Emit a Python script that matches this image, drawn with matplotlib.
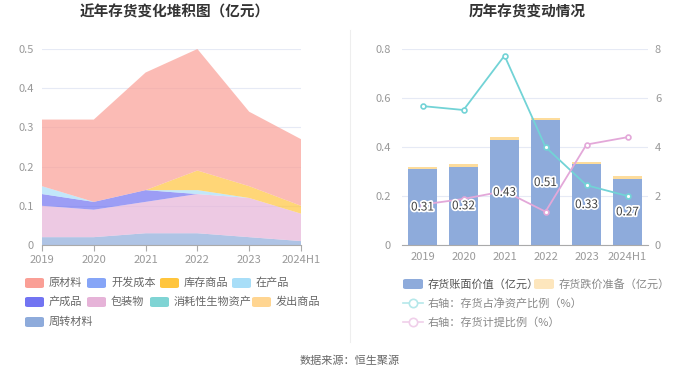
import matplotlib
matplotlib.use("Agg")
import matplotlib.pyplot as plt
import matplotlib.patheffects as pe
from matplotlib.patches import FancyBboxPatch
from matplotlib.lines import Line2D
import numpy as np

plt.rcParams['font.family'] = ['Noto Sans CJK SC', 'DejaVu Sans']

years = ['2019', '2020', '2021', '2022', '2023', '2024H1']

# left chart: inventory composition (亿元), legend order
stack_names = ['原材料', '开发成本', '库存商品', '在产品', '产成品', '包装物',
               '消耗性生物资产', '发出商品', '周转材料']
raw_material = [0.17, 0.21, 0.30, 0.31, 0.19, 0.17]
dev_cost = [0, 0, 0, 0, 0, 0]
goods_stock = [0, 0, 0, 0.05, 0.03, 0.02]
wip = [0.02, 0, 0, 0.01, 0, 0]
finished = [0.03, 0.02, 0.03, 0, 0, 0]
packaging = [0.08, 0.07, 0.08, 0.10, 0.10, 0.07]
bio_assets = [0, 0, 0, 0, 0, 0]
goods_shipped = [0, 0, 0, 0, 0, 0]
turnover_mat = [0.02, 0.02, 0.03, 0.03, 0.02, 0.01]
stack_colors = ['#fa9f96', '#86a5f7', '#ffc53d', '#a8def8', '#7274f2', '#e6b3d8',
                '#7fd4d4', '#ffd591', '#8eabdb']

# right chart
book_value = [0.31, 0.32, 0.43, 0.51, 0.33, 0.27]
impairment = [0.01, 0.01, 0.01, 0.01, 0.01, 0.01]
pct_net_assets = [5.67, 5.51, 7.73, 4.0, 2.44, 2.0]
pct_provision = [1.65, 1.88, 2.2, 1.36, 4.1, 4.4]

W, H = 700, 377
fig = plt.figure(figsize=(7, 3.77), dpi=100)
tick_c = '#999999'
grid_c = '#e6eaf5'

def fx(px):
    return px / W

def fy(py):
    return 1 - py / H

# ---- left: stacked area ----
ax1 = fig.add_axes([fx(42), fy(245), fx(259), (245 - 49) / H])
series = [raw_material, dev_cost, goods_stock, wip, finished, packaging,
          bio_assets, goods_shipped, turnover_mat]
x = np.arange(len(years))
ax1.stackplot(x, *series[::-1], colors=stack_colors[::-1], alpha=0.7, linewidth=0)
ax1.set_xlim(0, len(years) - 1)
ax1.set_ylim(0, 0.5)
ax1.set_yticks([0, 0.1, 0.2, 0.3, 0.4, 0.5])
ax1.set_yticklabels(['0', '0.1', '0.2', '0.3', '0.4', '0.5'])
ax1.set_xticks(x)
ax1.set_xticklabels(years)
ax1.grid(axis='y', color=grid_c, linewidth=0.8)
ax1.set_axisbelow(True)
for s in ['top', 'right', 'left']:
    ax1.spines[s].set_visible(False)
ax1.spines['bottom'].set_color('#aaaaaa')
ax1.tick_params(axis='y', length=0, pad=6, colors=tick_c, labelsize=8)
ax1.tick_params(axis='x', length=4, color='#aaaaaa', pad=3, colors=tick_c, labelsize=8)

# ---- right: bars + lines ----
ax2 = fig.add_axes([fx(402), fy(245), fx(246), (245 - 49) / H])
ax2.bar(x, book_value, width=0.7, color='#8eabdb', zorder=2)
ax2.bar(x, impairment, width=0.7, bottom=book_value, color='#fddc9c', zorder=2)
ax2.set_xlim(-0.5, len(years) - 0.5)
ax2.set_ylim(0, 0.8)
ax2.set_yticks([0, 0.2, 0.4, 0.6, 0.8])
ax2.set_yticklabels(['0', '0.2', '0.4', '0.6', '0.8'])
ax2.set_xticks(x)
ax2.set_xticklabels(years)
ax2.grid(axis='y', color=grid_c, linewidth=0.8)
ax2.set_axisbelow(True)
for s in ['top', 'right', 'left']:
    ax2.spines[s].set_visible(False)
ax2.spines['bottom'].set_color('#aaaaaa')
ax2.tick_params(axis='y', length=0, pad=8, colors=tick_c, labelsize=8)
ax2.tick_params(axis='x', length=0, pad=5, colors=tick_c, labelsize=8)

ax3 = ax2.twinx()
ax3.plot(x, pct_net_assets, color='#72d3d6', linewidth=1.3, marker='o', markersize=3.5,
         markerfacecolor='white', markeredgewidth=1.2, zorder=4)
ax3.plot(x, pct_provision, color='#e3a8d9', linewidth=1.3, marker='o', markersize=3.5,
         markerfacecolor='white', markeredgewidth=1.2, zorder=4)
ax3.set_ylim(0, 8)
ax3.set_yticks([0, 2, 4, 6, 8])
for s in ['top', 'right', 'left', 'bottom']:
    ax3.spines[s].set_visible(False)
ax3.tick_params(axis='y', length=0, pad=5, colors=tick_c, labelsize=8)

# bar labels drawn on the top axes so they sit above the lines
for xi, v in zip(x, book_value):
    ax3.text(xi, v / 2 * 10, f'{v:.2f}', ha='center', va='center', fontsize=8.5, color='#444444',
             zorder=6, path_effects=[pe.withStroke(linewidth=2.5, foreground='white')])

# ---- titles ----
fig.text(fx(175), fy(12), '近年存货变化堆积图（亿元）', ha='center', va='center',
         fontsize=10.5, fontweight='bold', color='#333333')
fig.text(fx(527), fy(12), '历年存货变动情况', ha='center', va='center',
         fontsize=10.5, fontweight='bold', color='#333333')

# separator
fig.add_artist(Line2D([fx(350), fx(350)], [fy(30), fy(342)], color='#eeeeee', linewidth=0.8))

# ---- left legend ----
leg_pos = [(25, 283), (87, 283), (160, 283), (232, 283),
           (25, 302), (87, 302), (150, 302), (252, 302),
           (25, 322)]
for name, col, (px, py) in zip(stack_names, stack_colors, leg_pos):
    fig.add_artist(FancyBboxPatch((fx(px), fy(py + 5)), fx(19), 10 / H,
                                  boxstyle='round,pad=0,rounding_size=0.004',
                                  facecolor=col, edgecolor='none', transform=fig.transFigure))
    fig.text(fx(px + 24), fy(py), name, ha='left', va='center', fontsize=8, color='#666666')

# ---- right legend ----
fig.add_artist(FancyBboxPatch((fx(403), fy(289)), fx(20), 10 / H,
                              boxstyle='round,pad=0,rounding_size=0.004',
                              facecolor='#8eabdb', edgecolor='none', transform=fig.transFigure))
fig.text(fx(428), fy(284), '存货账面价值（亿元）', ha='left', va='center', fontsize=8, color='#555555')
fig.add_artist(FancyBboxPatch((fx(534), fy(289)), fx(20), 10 / H,
                              boxstyle='round,pad=0,rounding_size=0.004',
                              facecolor='#fde6bd', edgecolor='none', transform=fig.transFigure))
fig.text(fx(559), fy(284), '存货跌价准备（亿元）', ha='left', va='center', fontsize=8, color='#888888')
for py, col, name in [(303, '#b5e8ea', '右轴：存货占净资产比例（%）'),
                      (322, '#f0cfea', '右轴：存货计提比例（%）')]:
    fig.add_artist(Line2D([fx(403), fx(423)], [fy(py), fy(py)], color=col, linewidth=1.2,
                          transform=fig.transFigure))
    fig.add_artist(Line2D([fx(413)], [fy(py)], color=col, marker='o', markersize=6,
                          markerfacecolor='white', markeredgewidth=1.2, linestyle='none',
                          transform=fig.transFigure))
    fig.text(fx(428), fy(py), name, ha='left', va='center', fontsize=8, color='#888888')

fig.text(0.5, fy(361), '数据来源：恒生聚源', ha='center', va='center', fontsize=8, color='#666666')

fig.savefig('out.png', dpi=100, facecolor='white')
